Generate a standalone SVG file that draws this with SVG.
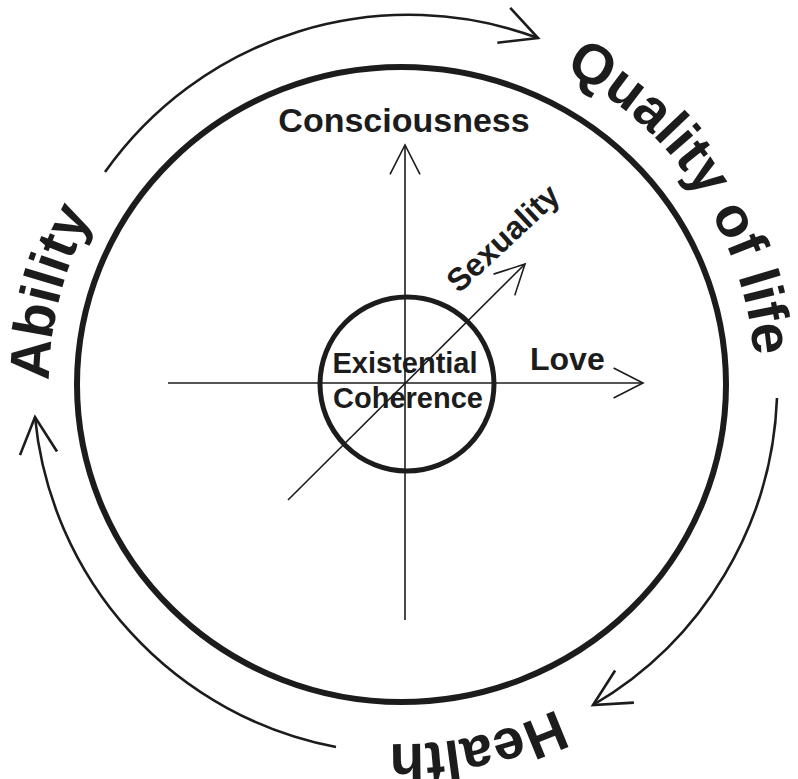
<svg xmlns="http://www.w3.org/2000/svg" width="798" height="779" viewBox="0 0 798 779">
  <style>
    .ring { fill: none; stroke: #1c1c1c; stroke-width: 6; }
    .core { fill: none; stroke: #1c1c1c; stroke-width: 5; }
    .axis { fill: none; stroke: #1c1c1c; stroke-width: 1.6; }
    .cycle { fill: none; stroke: #1c1c1c; stroke-width: 2.6; }
    .lbl { font-family: "Liberation Sans", Arial, Helvetica, sans-serif; font-weight: bold; fill: #1c1c1c; }
    .big { font-size: 56.5px; }
  </style>
  <defs>
    <marker id="axisHead" markerUnits="userSpaceOnUse" orient="auto" refX="0" refY="0" markerWidth="40" markerHeight="40" overflow="visible">
      <path d="M -29.4 -15 L 0 0 L -29.4 15" fill="none" stroke="#1c1c1c" stroke-width="1.6"/>
    </marker>
    <marker id="cycleHead" markerUnits="userSpaceOnUse" orient="auto" refX="0" refY="0" markerWidth="50" markerHeight="50" overflow="visible">
      <path d="M -36.5 -18.6 L 0 0 L -36.5 18.6" fill="none" stroke="#1c1c1c" stroke-width="2.6"/>
    </marker>
    <path id="pAbility" d="M 49 380.9 A 353 353 0 0 1 199.5 94.8"/>
    <path id="pQuality" d="M 563.9 70.3 A 353 353 0 0 1 742.9 475.4"/>
    <path id="pHealth" d="M 557 708.9 A 360 360 0 0 1 170.6 659.8"/>
  </defs>
  <rect x="0" y="0" width="798" height="779" fill="#ffffff"/>

  <g id="connectors">
    <path id="arrow-ability-quality" class="cycle" d="M 105 172 A 372 372 0 0 1 538 38" marker-end="url(#cycleHead)"/>
    <path id="arrow-quality-health" class="cycle" d="M 777 398 A 372 372 0 0 1 593 705" marker-end="url(#cycleHead)"/>
    <path id="arrow-health-ability" class="cycle" d="M 336 747 A 372 372 0 0 1 35 417" marker-end="url(#cycleHead)"/>
    <path id="axis-consciousness" class="axis" d="M 405 620 L 405 145" marker-end="url(#axisHead)"/>
    <path id="axis-love" class="axis" d="M 168 383 L 643 383" marker-end="url(#axisHead)"/>
    <path id="axis-sexuality" class="axis" d="M 288 500 L 525 264" marker-end="url(#axisHead)"/>
  </g>

  <g id="life-circle">
    <ellipse class="ring" cx="401.5" cy="384.5" rx="324.5" ry="317.5"/>
  </g>

  <g id="existential-coherence">
    <circle class="core" cx="407" cy="384" r="87"/>
    <text class="lbl" x="405" y="373" font-size="29" text-anchor="middle">Existential</text>
    <text class="lbl" x="408" y="408" font-size="29" text-anchor="middle">Coherence</text>
  </g>

  <g id="consciousness">
    <text class="lbl" x="404" y="132" font-size="34" text-anchor="middle">Consciousness</text>
  </g>
  <g id="love">
    <text class="lbl" x="530" y="370" font-size="32">Love</text>
  </g>
  <g id="sexuality">
    <text class="lbl" font-size="32" transform="translate(459,294) rotate(-43)">Sexuality</text>
  </g>

  <g id="ability">
    <text class="lbl big"><textPath href="#pAbility">Ability</textPath></text>
  </g>
  <g id="quality-of-life">
    <text class="lbl big"><textPath href="#pQuality">Quality of life</textPath></text>
  </g>
  <g id="health">
    <text class="lbl big"><textPath href="#pHealth">Health</textPath></text>
  </g>
</svg>
